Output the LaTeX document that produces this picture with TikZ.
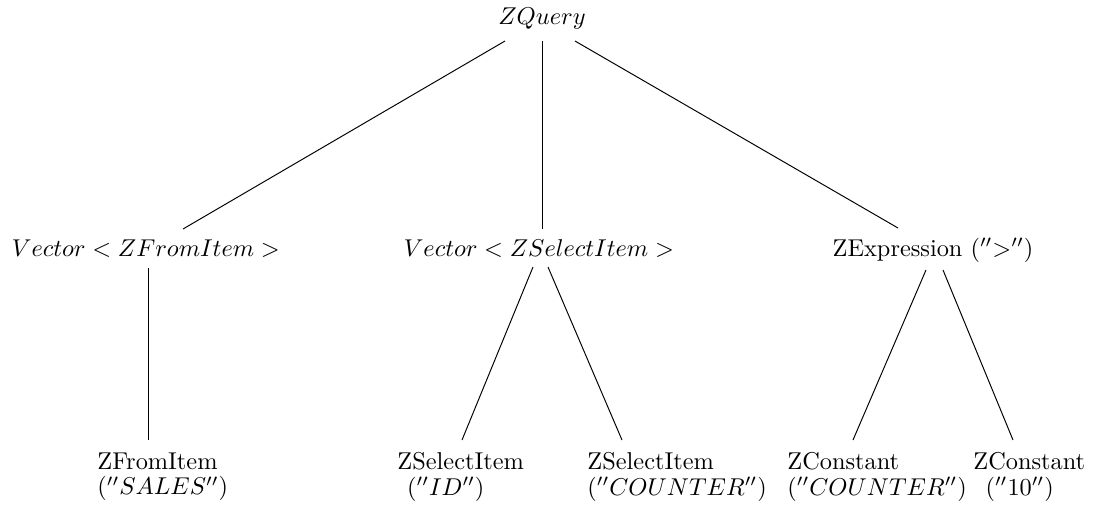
\documentclass[tikz,border=0pt]{standalone}
\usetikzlibrary{calc}
\begin{document}
\begin{tikzpicture}[x=0.411pt,y=-0.411pt,
  lbl/.style={inner sep=0pt},
  leaf/.style={inner sep=0pt,anchor=north west,align=left,
    font=\fontsize{10}{10.6}\selectfont},
  edge/.style={draw=black,line width=0.4pt}]
\useasboundingbox (0,0) rectangle (1097,505);

% root
\node[lbl,anchor=base] (q) at (542,24) {$ZQuery$};

% second level
\node[lbl,anchor=base] (vf) at (146,256) {$Vector<ZFromItem>$};
\node[lbl,anchor=base] (vs) at (539,256) {$Vector<ZSelectItem>$};
\node[lbl,anchor=base] (ze) at (933,256) {ZExpression $(''>'')$};

% leaves
\node[leaf] (fi)  at (97,452)  {ZFromItem\\$(''SALES'')$};
\node[leaf] (si1) at (397,452) {ZSelectItem\\\hspace*{4pt}$(''ID'')$};
\node[leaf] (si2) at (587,452) {ZSelectItem\\$(''COUNTER'')$};
\node[leaf] (zc1) at (787,452) {ZConstant\\$(''COUNTER'')$};
\node[leaf] (zc2) at (973,452) {ZConstant\\\hspace*{5pt}$(''10'')$};

% edges from the root
\draw[edge] ($(q.base)+(-37,17)$) -- ($(vf.base)+(37,-27)$);
\draw[edge] ($(q.base)+(0,17)$)   -- ($(vs.base)+(3,-27)$);
\draw[edge] ($(q.base)+(33,17)$)  -- ($(ze.base)+(-35,-28)$);

% edges to the leaves
\draw[edge] ($(vf.base)+(2,12)$)  -- ($(fi.north west)+(51,-12)$);
\draw[edge] ($(vs.base)+(-6,11)$) -- ($(si1.north west)+(65,-12)$);
\draw[edge] ($(vs.base)+(9,11)$)  -- ($(si2.north west)+(35,-12)$);
\draw[edge] ($(ze.base)+(-7,14)$) -- ($(zc1.north west)+(66,-12)$);
\draw[edge] ($(ze.base)+(10,14)$) -- ($(zc2.north west)+(40,-12)$);
\end{tikzpicture}
\end{document}
